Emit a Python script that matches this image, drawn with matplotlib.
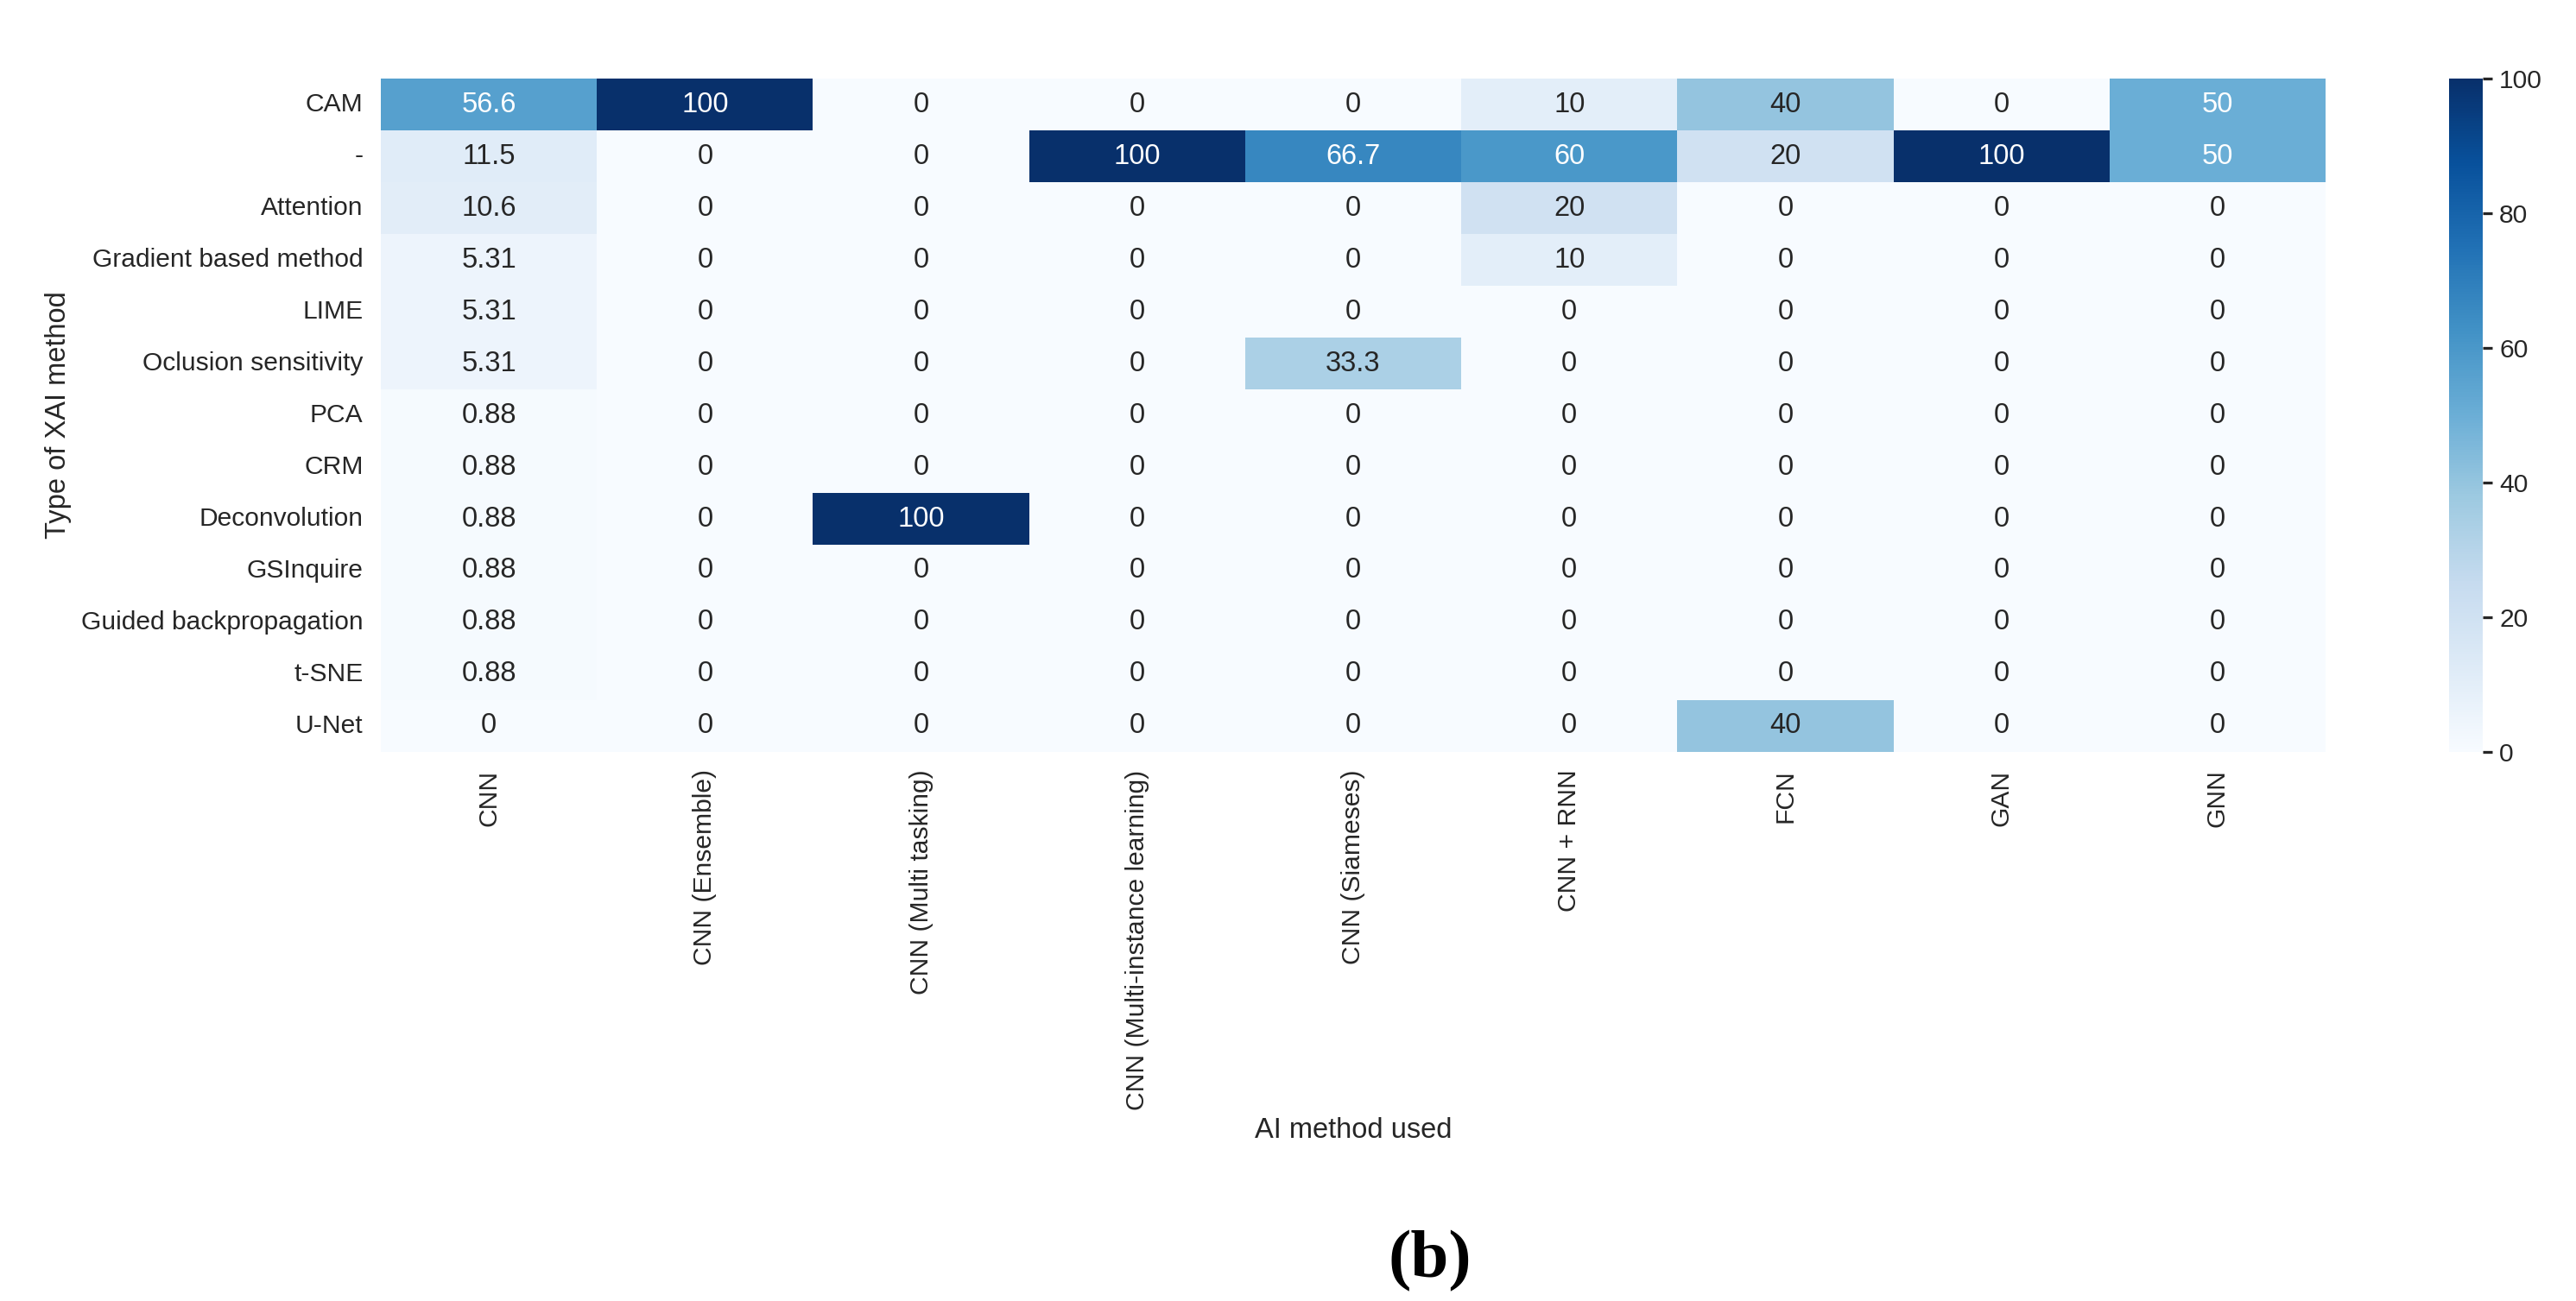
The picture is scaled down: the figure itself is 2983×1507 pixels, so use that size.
import matplotlib
matplotlib.use("Agg")
import matplotlib.pyplot as plt
import seaborn as sns
import pandas as pd

# ---- data ----
xai_methods = ["CAM", "-", "Attention", "Gradient based method", "LIME",
               "Oclusion sensitivity", "PCA", "CRM", "Deconvolution",
               "GSInquire", "Guided backpropagation", "t-SNE", "U-Net"]
ai_methods = ["CNN", "CNN (Ensemble)", "CNN (Multi tasking)",
              "CNN (Multi-instance learning)", "CNN (Siameses)", "CNN + RNN",
              "FCN", "GAN", "GNN"]

cnn = [56.6, 11.5, 10.6, 5.31, 5.31, 5.31, 0.88, 0.88, 0.88, 0.88, 0.88, 0.88, 0]
cnn_ensemble = [100, 0, 0, 0, 0, 0, 0, 0, 0, 0, 0, 0, 0]
cnn_multitask = [0, 0, 0, 0, 0, 0, 0, 0, 100, 0, 0, 0, 0]
cnn_mil = [0, 100, 0, 0, 0, 0, 0, 0, 0, 0, 0, 0, 0]
cnn_siamese = [0, 66.7, 0, 0, 0, 33.3, 0, 0, 0, 0, 0, 0, 0]
cnn_rnn = [10, 60, 20, 10, 0, 0, 0, 0, 0, 0, 0, 0, 0]
fcn = [40, 20, 0, 0, 0, 0, 0, 0, 0, 0, 0, 0, 40]
gan = [0, 100, 0, 0, 0, 0, 0, 0, 0, 0, 0, 0, 0]
gnn = [50, 50, 0, 0, 0, 0, 0, 0, 0, 0, 0, 0, 0]

columns = [cnn, cnn_ensemble, cnn_multitask, cnn_mil, cnn_siamese,
           cnn_rnn, fcn, gan, gnn]
df = pd.DataFrame({name: col for name, col in zip(ai_methods, columns)},
                  index=xai_methods)

# ---- style ----
sns.set_theme(style="white")
plt.rcParams["font.family"] = ["Liberation Sans", "DejaVu Sans"]

DPI = 196
fig = plt.figure(figsize=(2983 / DPI, 1507 / DPI), dpi=DPI)
ax = fig.add_axes([441 / 2983, 1 - 871 / 1507, (2693 - 441) / 2983, 780 / 1507])
cax = fig.add_axes([2836 / 2983, 1 - 871 / 1507, 39 / 2983, 780 / 1507])

sns.heatmap(df, ax=ax, cbar_ax=cax, cmap="Blues", vmin=0, vmax=100,
            annot=True, fmt=".3g", annot_kws={"fontsize": 12})

ax.tick_params(axis="both", length=0, pad=7.5, labelsize=11, colors=".15")
ax.set_xticklabels(ai_methods, rotation=90)
ax.set_yticklabels(xai_methods, rotation=0)
ax.set_xlabel("AI method used", fontsize=12, color=".15", labelpad=3)
ax.set_ylabel("Type of XAI method", fontsize=12, color=".15", labelpad=4)

cax.tick_params(length=4, width=1.2, labelsize=11, colors=".15", pad=3)
cax.set_yticks([0, 20, 40, 60, 80, 100])

fig.text(1656 / 2983, 1 - 1461 / 1507, "(b)", ha="center", va="center",
         fontsize=29, fontweight="bold", family=["Liberation Serif", "DejaVu Serif"],
         color="black")

fig.savefig("out.png", dpi=DPI, facecolor="white")
